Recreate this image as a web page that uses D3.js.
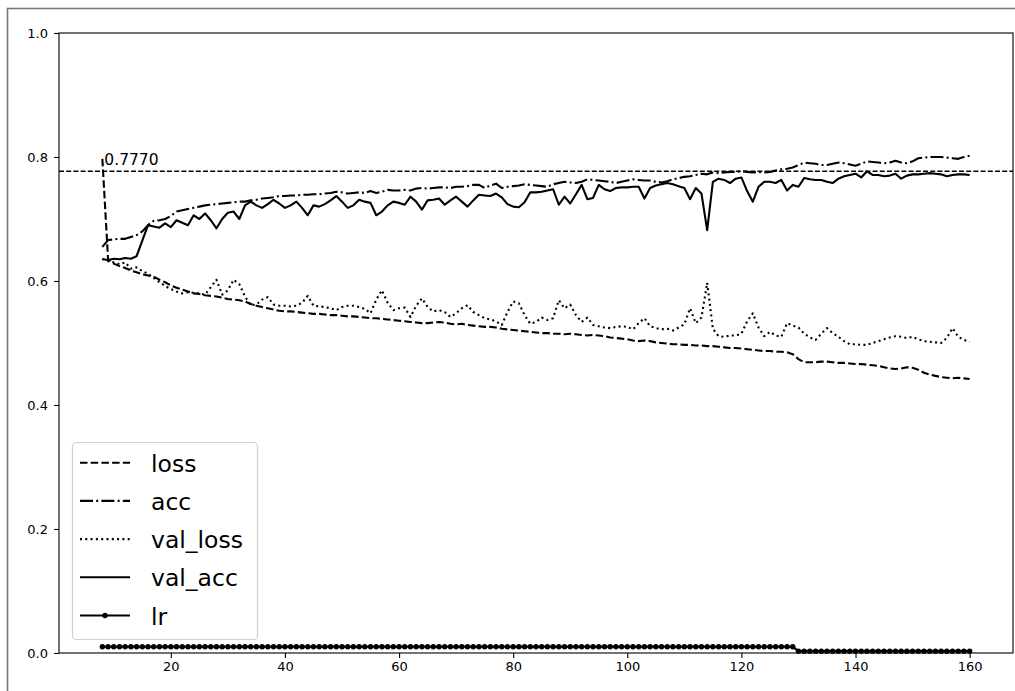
<!DOCTYPE html>
<html>
<head>
<meta charset="utf-8">
<script src="https://cdn.jsdelivr.net/npm/d3@7"></script>
<style>
  html, body { margin: 0; padding: 0; background: #fff; }
  svg { display: block; font-family: "DejaVu Sans", sans-serif; }
</style>
</head>
<body>
<svg id="chart" width="1015" height="691"></svg>
<script>
// ---------------- data ----------------
const firstEpoch = 8;
const lastEpoch = 160;
const xTicks = [20, 40, 60, 80, 100, 120, 140, 160];
const yTicks = [0.0, 0.2, 0.4, 0.6, 0.8, 1.0];
const yTickLabels = ["0.0", "0.2", "0.4", "0.6", "0.8", "1.0"];
const seriesNames = ["loss", "acc", "val_loss", "val_acc", "lr"];
const bestValue = 0.777;
const bestLabel = "0.7770";

const loss = [
  0.797,0.635,0.628,0.624,0.621,0.617,0.614,0.611,0.609,0.607,0.602,0.598,0.593,
  0.589,0.586,0.583,0.580,0.579,0.577,0.576,0.575,0.573,0.571,0.570,0.569,0.567,
  0.563,0.560,0.558,0.556,0.554,0.552,0.551,0.551,0.550,0.549,0.548,0.547,0.547,
  0.546,0.545,0.545,0.544,0.543,0.543,0.542,0.541,0.540,0.540,0.539,0.538,0.537,
  0.536,0.535,0.534,0.533,0.532,0.532,0.533,0.534,0.533,0.531,0.530,0.531,0.529,
  0.528,0.527,0.526,0.526,0.525,0.523,0.522,0.521,0.520,0.519,0.518,0.517,0.516,
  0.516,0.515,0.515,0.514,0.515,0.514,0.513,0.512,0.513,0.512,0.511,0.509,0.508,
  0.507,0.506,0.504,0.503,0.504,0.503,0.501,0.500,0.499,0.498,0.498,0.497,0.497,
  0.496,0.496,0.495,0.495,0.494,0.493,0.492,0.492,0.491,0.490,0.489,0.488,0.487,
  0.487,0.486,0.486,0.485,0.482,0.474,0.469,0.469,0.469,0.470,0.470,0.469,0.468,
  0.468,0.467,0.466,0.466,0.465,0.464,0.463,0.461,0.459,0.458,0.459,0.461,0.460,
  0.457,0.452,0.449,0.447,0.445,0.444,0.443,0.444,0.443,0.442
];

const acc = [
  0.655,0.666,0.667,0.668,0.668,0.671,0.674,0.680,0.690,0.697,0.698,0.700,0.705,
  0.712,0.714,0.716,0.718,0.720,0.722,0.723,0.724,0.725,0.726,0.727,0.728,0.728,
  0.730,0.731,0.733,0.734,0.735,0.737,0.737,0.738,0.738,0.739,0.739,0.740,0.740,
  0.741,0.742,0.744,0.743,0.741,0.742,0.743,0.742,0.745,0.742,0.744,0.747,0.746,
  0.746,0.747,0.746,0.749,0.750,0.749,0.750,0.751,0.751,0.750,0.752,0.752,0.753,
  0.755,0.755,0.750,0.754,0.757,0.750,0.752,0.753,0.754,0.756,0.755,0.754,0.753,
  0.752,0.756,0.758,0.760,0.759,0.758,0.760,0.764,0.763,0.762,0.761,0.760,0.758,
  0.760,0.762,0.764,0.763,0.762,0.762,0.760,0.759,0.761,0.764,0.766,0.768,0.769,
  0.771,0.773,0.772,0.775,0.774,0.775,0.776,0.776,0.777,0.776,0.775,0.776,0.775,
  0.776,0.778,0.780,0.781,0.783,0.787,0.791,0.790,0.789,0.787,0.787,0.789,0.791,
  0.790,0.788,0.786,0.789,0.793,0.792,0.791,0.790,0.791,0.794,0.791,0.790,0.793,
  0.798,0.799,0.800,0.800,0.800,0.799,0.798,0.797,0.800,0.802
];

const valLoss = [
  0.636,0.632,0.630,0.627,0.630,0.620,0.622,0.616,0.612,0.605,0.598,0.592,0.587,
  0.583,0.580,0.582,0.581,0.580,0.578,0.590,0.602,0.578,0.585,0.602,0.595,0.575,
  0.561,0.562,0.570,0.574,0.562,0.560,0.560,0.559,0.560,0.565,0.576,0.560,0.559,
  0.558,0.556,0.553,0.558,0.560,0.560,0.558,0.555,0.548,0.570,0.585,0.565,0.553,
  0.556,0.557,0.542,0.560,0.572,0.558,0.551,0.553,0.550,0.542,0.548,0.556,0.561,
  0.550,0.545,0.540,0.538,0.535,0.529,0.550,0.567,0.564,0.545,0.531,0.534,0.541,
  0.537,0.540,0.569,0.556,0.562,0.545,0.534,0.541,0.529,0.527,0.525,0.524,0.526,
  0.527,0.526,0.522,0.532,0.540,0.527,0.524,0.522,0.523,0.520,0.525,0.530,0.556,
  0.532,0.541,0.597,0.523,0.511,0.510,0.512,0.512,0.515,0.535,0.548,0.525,0.511,
  0.518,0.512,0.510,0.532,0.528,0.525,0.515,0.509,0.505,0.515,0.524,0.516,0.510,
  0.503,0.498,0.498,0.497,0.497,0.500,0.503,0.506,0.509,0.511,0.510,0.508,0.510,
  0.506,0.503,0.502,0.501,0.500,0.508,0.524,0.510,0.505,0.502
];

const valAcc = [
  0.635,0.634,0.636,0.635,0.637,0.636,0.640,0.665,0.690,0.688,0.686,0.693,0.687,
  0.698,0.694,0.690,0.706,0.700,0.709,0.698,0.685,0.700,0.710,0.712,0.700,0.722,
  0.728,0.722,0.718,0.724,0.731,0.725,0.718,0.722,0.728,0.718,0.706,0.722,0.720,
  0.724,0.730,0.737,0.728,0.718,0.722,0.731,0.728,0.726,0.706,0.712,0.722,0.728,
  0.726,0.723,0.736,0.728,0.715,0.730,0.731,0.733,0.723,0.730,0.736,0.728,0.720,
  0.730,0.739,0.738,0.737,0.741,0.735,0.724,0.720,0.719,0.727,0.743,0.743,0.744,
  0.746,0.748,0.723,0.736,0.725,0.740,0.755,0.732,0.734,0.755,0.748,0.745,0.750,
  0.751,0.751,0.752,0.752,0.733,0.750,0.754,0.756,0.758,0.756,0.753,0.750,0.732,
  0.750,0.741,0.682,0.760,0.765,0.763,0.758,0.765,0.767,0.745,0.728,0.752,0.760,
  0.760,0.758,0.763,0.746,0.755,0.752,0.766,0.764,0.763,0.763,0.760,0.758,0.765,
  0.769,0.771,0.773,0.767,0.777,0.771,0.771,0.769,0.770,0.773,0.765,0.770,0.772,
  0.772,0.773,0.774,0.773,0.772,0.769,0.771,0.772,0.772,0.771
];

const lrHigh = 0.01;
const lrLow = 0.003;
const lrDropEpoch = 130;

// ---------------- layout ----------------
const svg = d3.select("#chart");
const L = 59, T = 33, R = 1013, B = 653;

const epochs = d3.range(firstEpoch, lastEpoch + 1);
const lr = epochs.map(e => (e < lrDropEpoch ? lrHigh : lrLow));

const x = d3.scaleLinear()
  .domain([firstEpoch - 0.05 * (lastEpoch - firstEpoch), lastEpoch + 0.05 * (lastEpoch - firstEpoch)])
  .range([L, R]);
const y = d3.scaleLinear().domain([0, 1]).range([B, T]);

// outer frame
svg.append("rect")
  .attr("x", 7.5).attr("y", 8.5).attr("width", 1030).attr("height", 700)
  .attr("fill", "none").attr("stroke", "#777").attr("stroke-width", 1.6);

// axes
const tickFont = 13;
const xAxis = d3.axisBottom(x).tickValues(xTicks).tickSize(5).tickPadding(4).tickFormat(d3.format("d"));
const yAxis = d3.axisLeft(y).tickValues(yTicks).tickSize(5).tickPadding(6)
  .tickFormat((d, i) => yTickLabels[i]);

const gx = svg.append("g").attr("transform", `translate(0,${B})`).call(xAxis);
const gy = svg.append("g").attr("transform", `translate(${L},0)`).call(yAxis);
[gx, gy].forEach(g => {
  g.select(".domain").remove();
  g.selectAll("line").attr("stroke", "#000").attr("stroke-width", 1.1);
  g.selectAll("text").attr("font-size", tickFont).attr("fill", "#000")
    .attr("font-family", "DejaVu Sans, sans-serif");
});

// series lines
const lineGen = vals => d3.line()
  .x((d, i) => x(epochs[i]))
  .y(d => y(d))(vals);

const series = [
  { name: "loss", vals: loss, dash: "7.5,3.2" },
  { name: "acc", vals: acc, dash: "13,3.2,2,3.2" },
  { name: "val_loss", vals: valLoss, dash: "2,3.3" },
  { name: "val_acc", vals: valAcc, dash: null },
  { name: "lr", vals: lr, dash: null }
];

const plot = svg.append("g");
series.forEach(s => {
  plot.append("path")
    .attr("d", lineGen(s.vals))
    .attr("fill", "none")
    .attr("stroke", "#000")
    .attr("stroke-width", 2.1)
    .attr("stroke-linejoin", "round")
    .attr("stroke-dasharray", s.dash);
});

// lr markers
plot.selectAll("circle.lr").data(lr).enter().append("circle")
  .attr("class", "lr")
  .attr("cx", (d, i) => x(epochs[i]))
  .attr("cy", d => y(d))
  .attr("r", 2.7)
  .attr("fill", "#000");

// best-value line and label
plot.append("line")
  .attr("x1", L).attr("x2", R)
  .attr("y1", y(bestValue)).attr("y2", y(bestValue))
  .attr("stroke", "#000").attr("stroke-width", 1.3)
  .attr("stroke-dasharray", "5,2.2");

plot.append("text")
  .attr("x", x(firstEpoch) + 2)
  .attr("y", y(bestValue + 0.0105))
  .attr("font-size", 15.5)
  .attr("fill", "#000")
  .text(bestLabel);

// spines
svg.append("rect")
  .attr("x", L).attr("y", T).attr("width", R - L).attr("height", B - T)
  .attr("fill", "none").attr("stroke", "#000").attr("stroke-width", 1.1);

// legend
const lg = svg.append("g");
lg.append("rect")
  .attr("x", 72.5).attr("y", 442.5).attr("width", 185).attr("height", 197)
  .attr("rx", 4).attr("ry", 4)
  .attr("fill", "#fff").attr("fill-opacity", 0.8)
  .attr("stroke", "#d0d0d0").attr("stroke-width", 1.2);

const rowY0 = 462.7, rowStep = 38.2;
series.forEach((s, i) => {
  const cy = rowY0 + i * rowStep;
  lg.append("line")
    .attr("x1", 80).attr("x2", 130).attr("y1", cy).attr("y2", cy)
    .attr("stroke", "#000").attr("stroke-width", 2.1)
    .attr("stroke-dasharray", s.dash);
  if (s.name === "lr") {
    lg.append("circle").attr("cx", 105).attr("cy", cy).attr("r", 2.7).attr("fill", "#000");
  }
  lg.append("text")
    .attr("x", 151).attr("y", cy + 9)
    .attr("font-size", 23.5)
    .attr("fill", "#000")
    .text(s.name);
});
</script>
</body>
</html>
